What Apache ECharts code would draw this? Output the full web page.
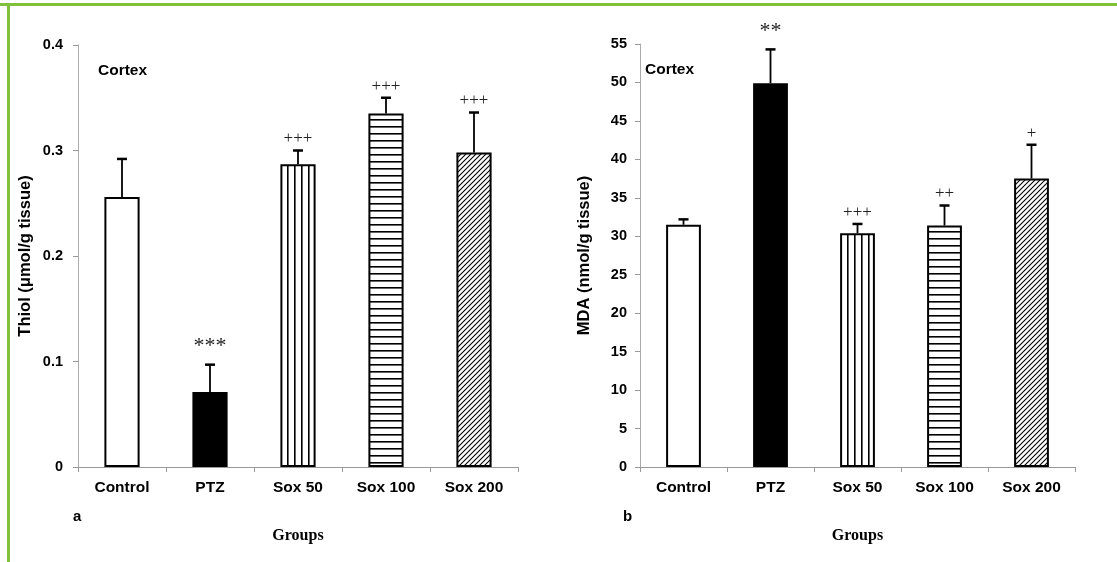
<!DOCTYPE html>
<html><head><meta charset="utf-8">
<script src="https://cdn.jsdelivr.net/npm/echarts@6/dist/echarts.min.js"></script>
<style>html,body{margin:0;padding:0;background:#fff}#c{width:1117px;height:562px}</style>
</head><body><div id="c"></div>
<script>
var categories = ['Control', 'PTZ', 'Sox 50', 'Sox 100', 'Sox 200'];
var thiolValues = [0.256, 0.071, 0.287, 0.335, 0.298];
var thiolErrors = [0.036, 0.026, 0.013, 0.015, 0.038];
var thiolMarks = ['', '***', '+++', '+++', '+++'];
var mdaValues = [31.5, 49.9, 30.4, 31.4, 37.5];
var mdaErrors = [0.7, 4.4, 1.2, 2.6, 4.4];
var mdaMarks = ['', '**', '+++', '++', '+'];
var thiolTicks = { min: 0, max: 0.4, interval: 0.1 };
var mdaTicks = { min: 0, max: 55, interval: 5 };

function pat(w, h, draw) {
  var c = document.createElement('canvas'); c.width = w; c.height = h;
  var g = c.getContext('2d'); g.fillStyle = '#fff'; g.fillRect(0, 0, w, h);
  g.strokeStyle = '#000'; g.fillStyle = '#000'; draw(g, w, h);
  return { image: c, repeat: 'repeat' };
}
var pVert = pat(7, 4, function (g, w, h) { g.fillRect(0, 0, 1.6, h); });
var pHorz = pat(4, 7, function (g, w, h) { g.fillRect(0, 0, w, 1.6); });
var pDiag = pat(5, 5, function (g, w, h) {
  g.lineWidth = 1.1;
  g.beginPath(); g.moveTo(-1, h + 1); g.lineTo(w + 1, -1); g.stroke();
  g.beginPath(); g.moveTo(-1, 1); g.lineTo(1, -1); g.stroke();
  g.beginPath(); g.moveTo(w - 1, h + 1); g.lineTo(w + 1, h - 1); g.stroke();
});
var fills = ['#ffffff', '#000000', pVert, pHorz, pDiag];

function barData(vals) {
  return vals.map(function (v, i) { return { value: v, itemStyle: { color: fills[i] } }; });
}
function errData(vals, errs, marks) {
  return vals.map(function (v, i) { return [i, v, errs[i], marks[i]]; });
}
function renderErr(params, api) {
  var i = api.value(0), v = api.value(1), e = api.value(2);
  var mark = params.context.marks[params.dataIndex];
  var p0 = api.coord([i, v]), p1 = api.coord([i, v + e]);
  var kids = [
    { type: 'line', shape: { x1: p0[0], y1: p0[1], x2: p1[0], y2: p1[1] }, style: { stroke: '#000', lineWidth: 1.8 } },
    { type: 'line', shape: { x1: p1[0] - 5, y1: p1[1], x2: p1[0] + 5, y2: p1[1] }, style: { stroke: '#000', lineWidth: 2.5 } }
  ];
  if (mark) {
    var ast = mark.charAt(0) === '*';
    kids.push({ type: 'text', style: { text: mark, x: p1[0], y: p1[1] - (ast ? 7 : 3), align: 'center', verticalAlign: 'bottom',
      font: (ast ? '22px' : '17px') + ' "Liberation Serif", serif', fill: '#222' } });
  }
  return { type: 'group', children: kids };
}

var axisLbl = { color: '#000', fontWeight: 'bold', fontSize: 14.5, fontFamily: 'Liberation Sans, Arial, sans-serif' };
function xAxis(gi) {
  return { type: 'category', gridIndex: gi, data: categories, boundaryGap: true,
    axisLine: { lineStyle: { color: '#999', width: 1 } },
    axisTick: { show: true, alignWithLabel: false, length: 5, lineStyle: { color: '#999' } },
    axisLabel: { color: '#000', fontWeight: 'bold', fontSize: 15.5, fontFamily: 'Liberation Sans, Arial, sans-serif', margin: 13 },
    name: 'Groups', nameLocation: 'middle', nameGap: 61,
    nameTextStyle: { color: '#000', fontWeight: 'bold', fontSize: 16, fontFamily: 'Liberation Serif, serif' } };
}
function yAxis(gi, t, name, gap, fmt, margin) {
  return { type: 'value', gridIndex: gi, min: t.min, max: t.max, interval: t.interval,
    splitLine: { show: false },
    axisLine: { show: true, lineStyle: { color: '#aaa', width: 1 } },
    axisTick: { show: true, length: 5, lineStyle: { color: '#999' } },
    axisLabel: Object.assign({ margin: margin, formatter: fmt }, axisLbl),
    name: name, nameLocation: 'middle', nameGap: gap,
    nameTextStyle: { color: '#000', fontWeight: 'bold', fontSize: 16.5, fontFamily: 'Liberation Sans, Arial, sans-serif' } };
}

var chart = echarts.init(document.getElementById('c'), null, { renderer: 'canvas' });
chart.setOption({
  animation: false,
  backgroundColor: '#fff',
  grid: [
    { left: 78, right: 599, top: 45, bottom: 95 },
    { left: 640, right: 42, top: 44, bottom: 95 }
  ],
  xAxis: [xAxis(0), xAxis(1)],
  yAxis: [
    yAxis(0, thiolTicks, 'Thiol (μmol/g tissue)', 44, function (v) { return v === 0 ? '0' : v.toFixed(1); }, 15),
    yAxis(1, mdaTicks, 'MDA (nmol/g tissue)', 47, function (v) { return String(v); }, 13)
  ],
  series: [
    { type: 'bar', xAxisIndex: 0, yAxisIndex: 0, barWidth: '40%', data: barData(thiolValues),
      itemStyle: { borderColor: '#000', borderWidth: 2 } },
    { type: 'bar', xAxisIndex: 1, yAxisIndex: 1, barWidth: '40%', data: barData(mdaValues),
      itemStyle: { borderColor: '#000', borderWidth: 2 } },
    { type: 'custom', xAxisIndex: 0, yAxisIndex: 0, data: errData(thiolValues, thiolErrors, thiolMarks), z: 5,
      renderItem: function (p, api) { p.context.marks = thiolMarks; return renderErr(p, api); } },
    { type: 'custom', xAxisIndex: 1, yAxisIndex: 1, data: errData(mdaValues, mdaErrors, mdaMarks), z: 5,
      renderItem: function (p, api) { p.context.marks = mdaMarks; return renderErr(p, api); } }
  ],
  graphic: [
    { type: 'rect', shape: { x: 0, y: 3, width: 1117, height: 3 }, style: { fill: '#80c03a' } },
    { type: 'rect', shape: { x: 7, y: 3, width: 3, height: 559 }, style: { fill: '#80c03a' } },
    { type: 'text', style: { text: 'Cortex', x: 98, y: 71, verticalAlign: 'middle', font: 'bold 15.5px "Liberation Sans", Arial, sans-serif', fill: '#000' } },
    { type: 'text', style: { text: 'Cortex', x: 645, y: 70, verticalAlign: 'middle', font: 'bold 15.5px "Liberation Sans", Arial, sans-serif', fill: '#000' } },
    { type: 'text', style: { text: 'a', x: 73, y: 517, verticalAlign: 'middle', font: 'bold 15px "Liberation Sans", Arial, sans-serif', fill: '#000' } },
    { type: 'text', style: { text: 'b', x: 623, y: 517, verticalAlign: 'middle', font: 'bold 15px "Liberation Sans", Arial, sans-serif', fill: '#000' } }
  ]
});
</script></body></html>
